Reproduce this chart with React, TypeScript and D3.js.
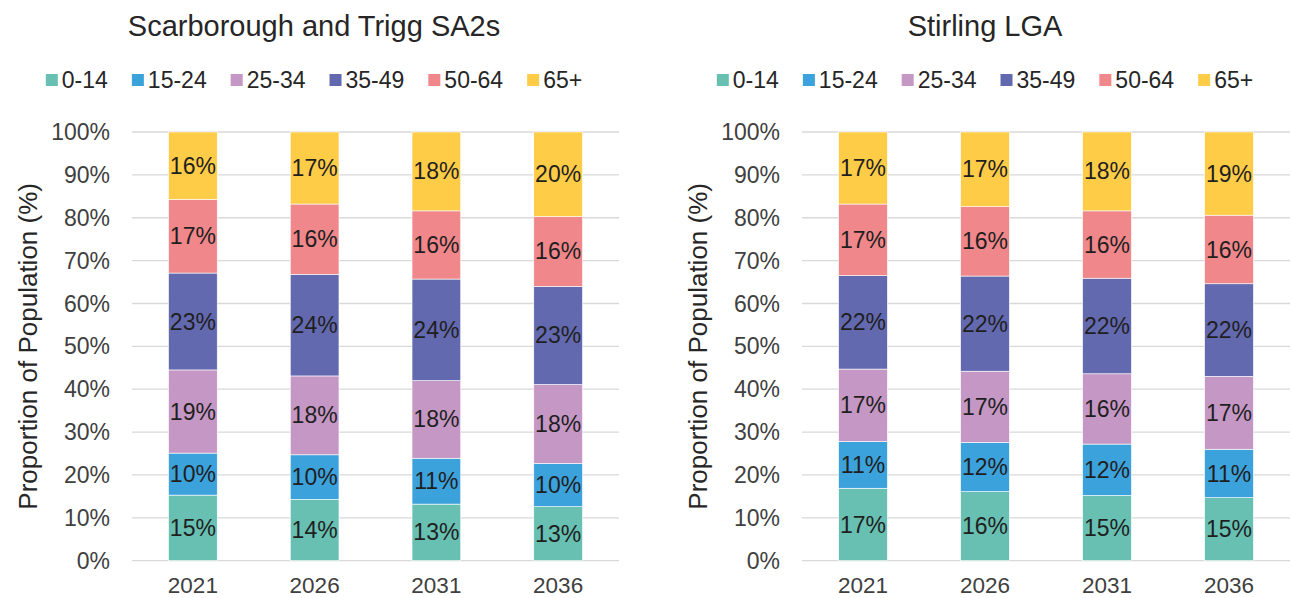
import React from "react";
import * as d3 from "d3";

const years = ["2021", "2026", "2031", "2036"];
const ageGroups = ["0-14", "15-24", "25-34", "35-49", "50-64", "65+"];
const groupColors = ["#67C0B2", "#3CA2DC", "#C597C4", "#6369AF", "#F0878A", "#FFCC47"];
const yTicks = [0, 10, 20, 30, 40, 50, 60, 70, 80, 90, 100];

// Scarborough and Trigg SA2s, share of population (%) per age group
const scar0to14 = [15.3, 14.3, 13.2, 12.6];
const scar15to24 = [9.8, 10.4, 10.7, 10.1];
const scar25to34 = [19.4, 18.4, 18.1, 18.4];
const scar35to49 = [22.6, 23.7, 23.7, 22.9];
const scar50to64 = [17.2, 16.4, 15.9, 16.3];
const scar65plus = [15.7, 16.8, 18.4, 19.7];

// Stirling LGA
const stir0to14 = [16.9, 16.1, 15.2, 14.7];
const stir15to24 = [10.9, 11.5, 12.0, 11.3];
const stir25to34 = [16.9, 16.6, 16.4, 17.0];
const stir35to49 = [21.8, 22.2, 22.3, 21.6];
const stir50to64 = [16.7, 16.2, 15.7, 16.0];
const stir65plus = [16.8, 17.4, 18.4, 19.4];

const FONT = "'Liberation Sans', Arial, sans-serif";
const TEXT = "#262626";

function toRows(series: number[][]) {
  return years.map((yr, i) => {
    const row: any = { year: yr };
    ageGroups.forEach((g, j) => (row[g] = series[j][i]));
    return row;
  });
}

const panels = [
  {
    title: "Scarborough and Trigg SA2s",
    cx: 314,
    x0: 132,
    x1: 619,
    axisX: 28,
    rows: toRows([scar0to14, scar15to24, scar25to34, scar35to49, scar50to64, scar65plus]),
  },
  {
    title: "Stirling LGA",
    cx: 985,
    x0: 802,
    x1: 1290,
    axisX: 698,
    rows: toRows([stir0to14, stir15to24, stir25to34, stir35to49, stir50to64, stir65plus]),
  },
];

const measure = (() => {
  const ctx = document.createElement("canvas").getContext("2d")!;
  return (s: string, size: number) => {
    ctx.font = `${size}px 'Liberation Sans'`;
    return ctx.measureText(s).width;
  };
})();

function Panel({ p }: { p: any }) {
  const top = 132;
  const bottom = 560.7;
  const y = d3.scaleLinear().domain([0, 100]).range([bottom, top]);
  const x = d3.scaleBand().domain(years).range([p.x0, p.x1]).paddingInner(0.6).paddingOuter(0.3);
  const stacked = d3.stack().keys(ageGroups)(p.rows);

  // legend layout
  const sq = 12;
  const gapText = 4;
  const gapItem = 24;
  const widths = ageGroups.map((g) => sq + gapText + measure(g, 23));
  const total = d3.sum(widths) + gapItem * (ageGroups.length - 1);
  let lx = p.cx - total / 2;
  const legendX = widths.map((w) => {
    const v = lx;
    lx += w + gapItem;
    return v;
  });

  return (
    <g>
      <text x={p.cx} y={36} textAnchor="middle" fontSize={29} fill={TEXT}>
        {p.title}
      </text>
      {ageGroups.map((g, i) => (
        <g key={g} transform={`translate(${legendX[i]},80)`}>
          <rect x={0} y={-sq / 2} width={sq} height={sq} fill={groupColors[i]} />
          <text x={sq + gapText} y={0} dy="0.35em" fontSize={23} fill={TEXT}>
            {g}
          </text>
        </g>
      ))}
      {yTicks.map((t) => (
        <g key={t}>
          <line x1={p.x0} x2={p.x1} y1={y(t)} y2={y(t)} stroke="#D9D9D9" strokeWidth={1.3} />
          <text x={p.x0 - 22} y={y(t)} dy="0.35em" textAnchor="end" fontSize={23} fill="#404040">
            {t}%
          </text>
        </g>
      ))}
      <text
        transform={`translate(${p.axisX},${(top + bottom) / 2}) rotate(-90)`}
        textAnchor="middle"
        dy="0.35em"
        fontSize={26}
        fill={TEXT}
      >
        Proportion of Population (%)
      </text>
      {stacked.map((s, si) => (
        <g key={s.key}>
          {s.map((d: any) => {
            const bx = x(d.data.year)!;
            const y0 = y(d[0]);
            const y1 = y(d[1]);
            return (
              <g key={d.data.year}>
                <rect
                  x={bx}
                  y={y1}
                  width={x.bandwidth()}
                  height={y0 - y1}
                  fill={groupColors[si]}
                  stroke="#ffffff"
                  strokeWidth={0.6}
                />
                <text
                  x={bx + x.bandwidth() / 2}
                  y={(y0 + y1) / 2}
                  dy="0.35em"
                  textAnchor="middle"
                  fontSize={23}
                  fill="#1f1f1f"
                >
                  {Math.round(d[1] - d[0])}%
                </text>
              </g>
            );
          })}
        </g>
      ))}
      {years.map((yr) => (
        <text
          key={yr}
          x={x(yr)! + x.bandwidth() / 2}
          y={593}
          textAnchor="middle"
          fontSize={22.5}
          fill="#404040"
        >
          {yr}
        </text>
      ))}
    </g>
  );
}

export default function App() {
  return (
    <div style={{ position: "absolute", left: 0, top: 0 }}>
      <svg width={1292} height={598} style={{ display: "block", fontFamily: FONT, background: "#fff" }}>
        {panels.map((p) => (
          <Panel key={p.title} p={p} />
        ))}
      </svg>
    </div>
  );
}
